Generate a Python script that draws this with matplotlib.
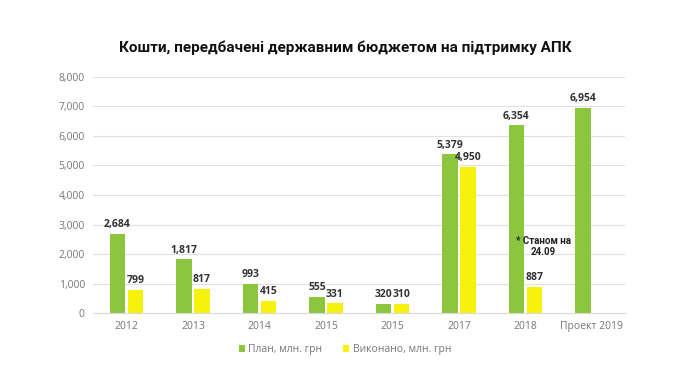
import numpy as np
import matplotlib
matplotlib.use("Agg")
import matplotlib.pyplot as plt

# note: the source chart labels the 5th group "2015" a second time
years = ["2012", "2013", "2014", "2015", "2015", "2017", "2018", "Проект 2019"]
plan = [2684, 1817, 993, 555, 320, 5379, 6354, 6954]
done = [799, 817, 415, 331, 310, 4950, 887, np.nan]

green = "#8cc63f"
yellow = "#f7f20c"

plt.rcParams['font.family'] = ['Open Sans', 'DejaVu Sans']

fig = plt.figure(figsize=(6.9, 3.88), dpi=100)
ax = fig.add_axes([0.135, 0.193, 0.771, 0.609])

x = np.arange(len(years))
w = 0.23
b1 = ax.bar(x - w / 2 - 0.02, plan, w, color=green, label="План, млн. грн")
b2 = ax.bar(x + w / 2 + 0.02, done, w, color=yellow, label="Виконано, млн. грн")

for xi, v in zip(x, plan):
    ax.text(xi - w / 2 - 0.02, v + 120, f"{v:,}", ha="center", va="bottom",
            fontsize=7.5, fontweight="bold", color="#333333")
for xi, v in zip(x, done):
    if np.isnan(v):
        continue
    ax.text(xi + w / 2 + 0.02, v + 120, f"{int(v):,}", ha="center", va="bottom",
            fontsize=7.5, fontweight="bold", color="#333333")

ax.text(6.27, 1900, "* Станом на\n24.09", ha="center", va="bottom",
        fontsize=7, fontweight="bold", color="#222222", linespacing=1.15,
        family=["Liberation Sans Narrow", "Roboto", "DejaVu Sans"])

ax.set_ylim(0, 8000)
ax.set_yticks(np.arange(0, 8001, 1000))
ax.set_yticklabels([f"{t:,}" for t in range(0, 8001, 1000)])
ax.set_xlim(-0.5, len(years) - 0.5)
ax.set_xticks(x)
ax.set_xticklabels(years)
ax.tick_params(axis="both", length=0, labelsize=7.5, labelcolor="#777777", pad=6)
ax.grid(axis="y", color="#e0e0e0", linewidth=0.8)
ax.set_axisbelow(True)
for s in ["top", "right", "left"]:
    ax.spines[s].set_visible(False)
ax.spines["bottom"].set_color("#d9d9d9")

fig.text(0.5, 0.878, "Кошти, передбачені державним бюджетом на підтримку АПК",
         ha="center", va="center", fontsize=11, fontweight="bold",
         family=["Roboto", "DejaVu Sans"], color="#111111")

fig.legend(handles=[b1, b2], loc="center", bbox_to_anchor=(0.5, 0.098), ncol=2,
           frameon=False, fontsize=7.5, handlelength=0.6, handleheight=0.6,
           handletextpad=0.3, columnspacing=2.0, labelcolor="#777777")

fig.savefig("out.png", dpi=100)
